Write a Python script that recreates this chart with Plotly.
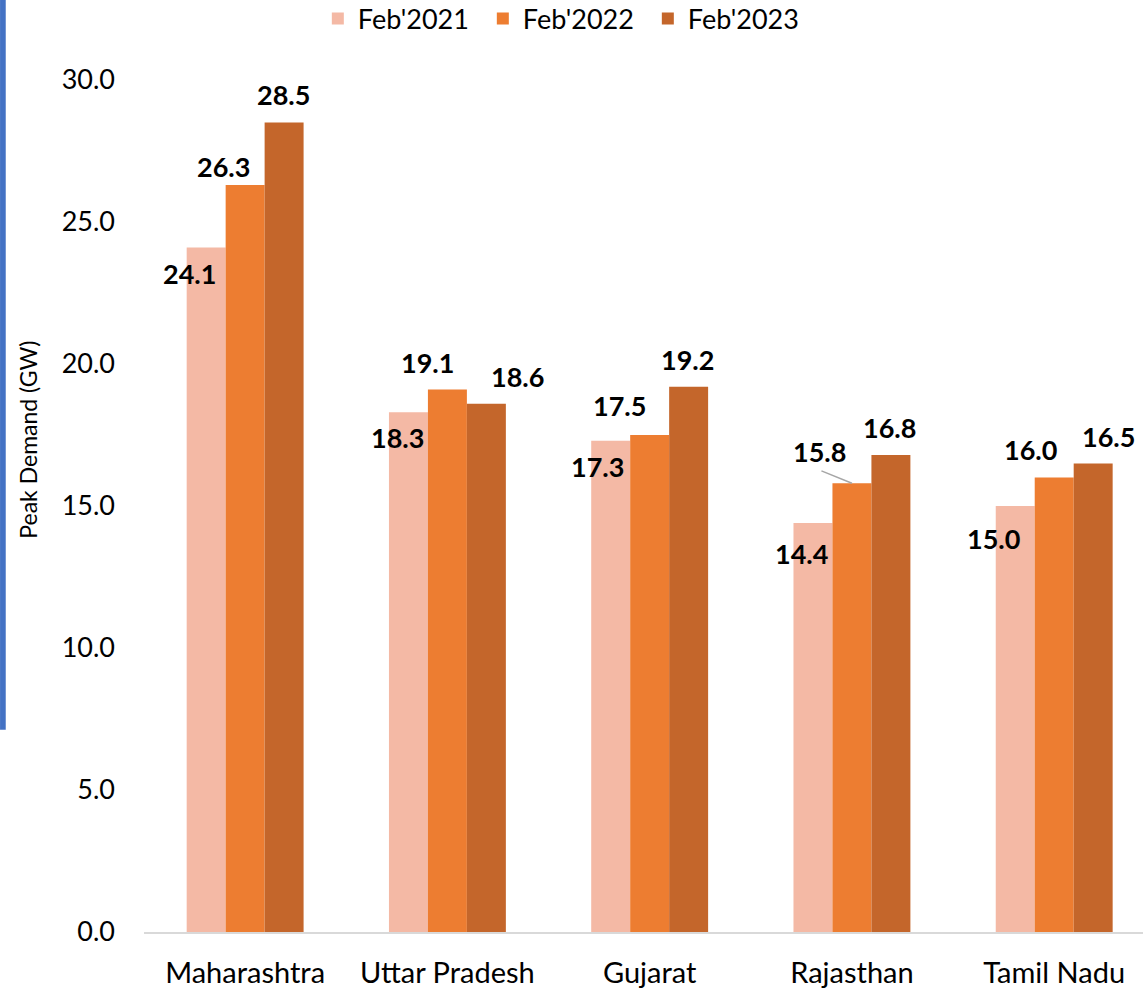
import plotly.graph_objects as go

# Peak electricity demand by state (GW)
states = ["Maharashtra", "Uttar Pradesh", "Gujarat", "Rajasthan", "Tamil Nadu"]
series_names = ["Feb'2021", "Feb'2022", "Feb'2023"]
feb_2021 = [24.1, 18.3, 17.3, 14.4, 15.0]
feb_2022 = [26.3, 19.1, 17.5, 15.8, 16.0]
feb_2023 = [28.5, 18.6, 19.2, 16.8, 16.5]
y_ticks = [0, 5, 10, 15, 20, 25, 30]

colors = ["#F4B9A5", "#ED7D31", "#C4662B"]
series = [feb_2021, feb_2022, feb_2023]

# label offsets (px) from the top centre of each bar: (dx right, dy down)
label_offsets = [
    [(-17, 26), (-11, 25), (-13, 26), (-11, 30), (-22, 32)],
    [(-22, -19), (-20, -27), (-30, -30), (-32, -32), (-24, -28)],
    [(-1, -28), (31, -27), (-1, -27), (-1, -27), (15, -27)],
]
bar_px = 39  # bar width in px, for placing labels

FONT = "Lato"

fig = go.Figure()
for name, vals, col in zip(series_names, series, colors):
    fig.add_trace(go.Bar(
        x=states, y=vals, name=name,
        marker=dict(color=col, line=dict(width=0)),
    ))

annotations = []
for si, vals in enumerate(series):
    for ci, v in enumerate(vals):
        dx, dy = label_offsets[si][ci]
        annotations.append(dict(
            x=states[ci], y=v, xref="x", yref="y",
            text=f"<b>{v:.1f}</b>", showarrow=False,
            xshift=(si - 1) * bar_px + dx, yshift=-dy,
            font=dict(family=FONT, size=27, color="#000000"),
            xanchor="center", yanchor="middle",
        ))

# leader line for the Rajasthan Feb'2022 label
annotations.append(dict(
    x="Rajasthan", y=feb_2022[3], xref="x", yref="y",
    text="", showarrow=True, arrowhead=0, arrowwidth=1.5,
    arrowcolor="#A6A6A6", ax=-32, ay=-13, standoff=0, startstandoff=0,
))

# y-axis title
annotations.append(dict(
    x=-0.117, y=0.578, xref="paper", yref="paper",
    text="Peak Demand (GW)", showarrow=False, textangle=-90,
    font=dict(family=FONT, size=23, color="#000000"),
    xanchor="center", yanchor="middle",
))

fig.update_layout(
    width=1143, height=991,
    margin=dict(l=144, r=0, t=80, b=59, autoexpand=False),
    paper_bgcolor="white", plot_bgcolor="white",
    barmode="group", bargap=0.422, bargroupgap=0,
    font=dict(family=FONT, size=27, color="#000000"),
    legend=dict(
        orientation="h", x=0.174, xanchor="left", y=1.0716, yanchor="middle",
        font=dict(family=FONT, size=27, color="#000000"),
        traceorder="normal", entrywidth=120, entrywidthmode="pixels",
    ),
    annotations=annotations,
    shapes=[dict(
        type="rect", xref="paper", yref="paper",
        x0=-0.1441, x1=-0.1384, y0=0.2374, y1=1.0952,
        fillcolor="#4472C4", line=dict(width=0), layer="above",
    )],
    showlegend=True,
)
fig.update_xaxes(
    type="category", range=[-0.5, 4.439],
    showline=True, linecolor="#D9D9D9", linewidth=1.5,
    showgrid=False, ticks="", zeroline=False,
    tickfont=dict(family=FONT, size=29, color="#000000"),
    ticklabelstandoff=14, automargin=False,
)
fig.update_yaxes(
    range=[0, 30], tickvals=y_ticks, tickformat=".1f",
    showline=False, showgrid=False, zeroline=False, ticks="",
    tickfont=dict(family=FONT, size=27, color="#000000"),
    ticklabelstandoff=28, automargin=False,
)

fig.write_html("out.html")
